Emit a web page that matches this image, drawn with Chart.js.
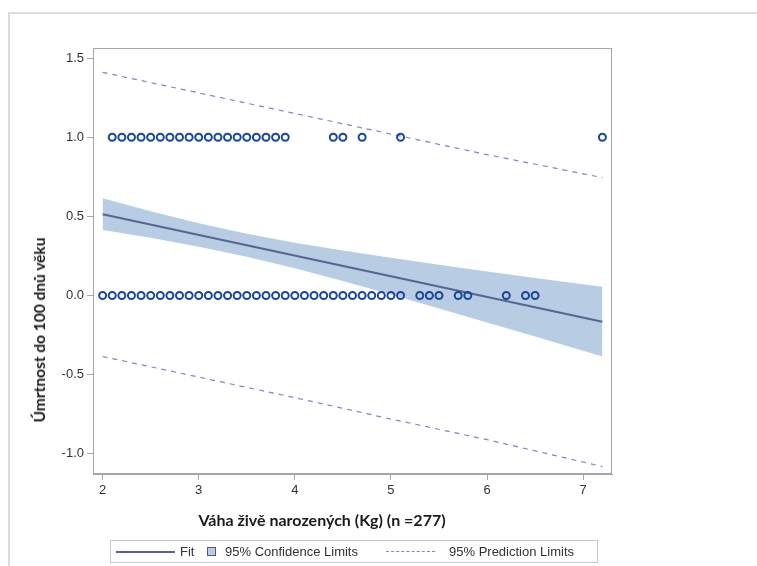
<!DOCTYPE html>
<html>
<head>
<meta charset="utf-8">
<script src="https://cdn.jsdelivr.net/npm/chart.js@4.4.4/dist/chart.umd.min.js"></script>
<style>
  html, body { margin: 0; padding: 0; background: #fff; }
  #wrap { position: relative; width: 757px; height: 566px; overflow: hidden; }
  #frame { position: absolute; left: 8px; top: 12px; width: 800px; height: 600px; border: 2px solid #dcdcdc; }
  canvas { position: absolute; left: 0; top: 0; }
  .axt { position: absolute; font-family: Lato, "Open Sans", sans-serif; font-weight: bold; font-size: 15.5px; color: #1a1a1a; white-space: nowrap; }
  #ytitle { left: 39px; top: 330px; transform: translate(-50%, -50%) rotate(-90deg); }
  #xtitle { left: 322px; top: 519px; transform: translate(-50%, -50%); font-size: 16px; }
  #legend { position: absolute; left: 110px; top: 540px; width: 486px; height: 21px; border: 1px solid #c8c8c8;
            font-family: "Liberation Sans", Arial, sans-serif; font-size: 13px; color: #333; }
  #legend span, #legend i { position: absolute; }
  #legend span { top: 3px; }
</style>
</head>
<body>
<div id="wrap">
  <div id="frame"></div>
  <canvas id="chart" width="757" height="566"></canvas>
  <div class="axt" id="ytitle">Úmrtnost do 100 dnů věku</div>
  <div class="axt" id="xtitle">Váha živě narozených (Kg) (n =277)</div>
  <div id="legend">
    <i style="left:5px;top:10px;width:59px;height:0;border-top:2px solid #56678f"></i>
    <span style="left:69px">Fit</span>
    <i style="left:96px;top:6px;width:7px;height:7px;background:#b8cce4;border:1px solid #4a5a80"></i>
    <span style="left:114px">95% Confidence Limits</span>
    <i style="left:275px;top:10px;width:49px;height:0;border-top:1px dashed #7b87c6"></i>
    <span style="left:338px">95% Prediction Limits</span>
  </div>
</div>
<script>
// observed points (weight in kg, died before day 100 = 1)
const deadX = [2.1, 2.2, 2.3, 2.4, 2.5, 2.6, 2.7, 2.8, 2.9, 3.0, 3.1, 3.2, 3.3, 3.4, 3.5, 3.6, 3.7, 3.8, 3.9,
               4.4, 4.5, 4.7, 5.1, 7.2];
const aliveX = [2.0, 2.1, 2.2, 2.3, 2.4, 2.5, 2.6, 2.7, 2.8, 2.9, 3.0, 3.1, 3.2, 3.3, 3.4, 3.5, 3.6, 3.7, 3.8, 3.9,
                4.0, 4.1, 4.2, 4.3, 4.4, 4.5, 4.6, 4.7, 4.8, 4.9, 5.0, 5.1,
                5.3, 5.4, 5.5, 5.7, 5.8, 6.2, 6.4, 6.5];

// regression fit
const fitX = [2.0, 7.2];
const fitY = [0.514, -0.165];

// 95% confidence band
const bandX = [2.0, 2.5, 3.0, 3.5, 4.0, 4.5, 5.0, 5.5, 6.0, 6.5, 7.2];
const bandUpper = [0.614, 0.533, 0.457, 0.391, 0.334, 0.284, 0.238, 0.195, 0.152, 0.111, 0.055];
const bandLower = [0.414, 0.365, 0.309, 0.245, 0.172, 0.092, 0.006, -0.081, -0.170, -0.259, -0.385];

// 95% prediction limits
const predX = [2.0, 3.0, 4.0, 5.0, 6.0, 7.2];
const predUpper = [1.41, 1.28, 1.15, 1.02, 0.89, 0.745];
const predLower = [-0.385, -0.515, -0.645, -0.78, -0.91, -1.08];

const xTicks = [2, 3, 4, 5, 6, 7];
const yTicks = [-1.0, -0.5, 0.0, 0.5, 1.0, 1.5];

const pts = (xs, ys) => xs.map((x, i) => ({ x: x, y: ys[i] }));
const flat = (xs, v) => xs.map(x => ({ x: x, y: v }));

const frameBox = {
  id: 'frameBox',
  afterDraw(chart) {
    const a = chart.chartArea, ctx = chart.ctx;
    ctx.save();
    ctx.strokeStyle = '#a6a6a6';
    ctx.lineWidth = 1;
    ctx.strokeRect(a.left + 0.5, a.top + 0.5, a.right - a.left - 1, a.bottom - a.top - 1);
    ctx.restore();
  }
};

const lineDs = (label, data, opts) => Object.assign({
  label, data, showLine: true, pointRadius: 0, tension: 0, fill: false
}, opts);

new Chart(document.getElementById('chart'), {
  type: 'scatter',
  data: {
    datasets: [
      { label: '1', data: flat(deadX, 1), pointRadius: 3.5, pointBorderWidth: 2,
        borderColor: '#1c469c', backgroundColor: 'rgba(255,255,255,0)', order: 0 },
      { label: '0', data: flat(aliveX, 0), pointRadius: 3.5, pointBorderWidth: 2,
        borderColor: '#1c469c', backgroundColor: 'rgba(255,255,255,0)', order: 0 },
      lineDs('Fit', pts(fitX, fitY), { borderColor: '#56678f', borderWidth: 2, order: 1 }),
      lineDs('Pred upper', pts(predX, predUpper), { borderColor: '#7b87c6', borderWidth: 1.2, borderDash: [5, 5], order: 2 }),
      lineDs('Pred lower', pts(predX, predLower), { borderColor: '#7b87c6', borderWidth: 1.2, borderDash: [5, 5], order: 2 }),
      lineDs('CL lower', pts(bandX, bandLower), { borderWidth: 0, borderColor: 'rgba(0,0,0,0)', order: 3 }),
      lineDs('CL upper', pts(bandX, bandUpper), { borderWidth: 0, borderColor: 'rgba(0,0,0,0)',
        backgroundColor: '#b8cce4', fill: '-1', order: 3 })
    ]
  },
  options: {
    responsive: false,
    animation: false,
    layout: { padding: { top: 48, right: 145, bottom: 62, left: 0 } },
    plugins: { legend: { display: false }, tooltip: { enabled: false } },
    scales: {
      x: {
        type: 'linear', min: 1.9, max: 7.3,
        afterBuildTicks: s => { s.ticks = xTicks.map(v => ({ value: v })); },
        afterFit: s => { s.height = 30; },
        grid: { drawOnChartArea: false, tickLength: 6, color: '#a6a6a6' },
        border: { color: '#a6a6a6' },
        ticks: { color: '#333', padding: 3, font: { family: 'Liberation Sans, Arial', size: 13 },
                 callback: v => String(v) }
      },
      y: {
        type: 'linear', min: -1.127, max: 1.5635,
        afterBuildTicks: s => { s.ticks = yTicks.map(v => ({ value: v })); },
        afterFit: s => { s.width = 93; },
        grid: { drawOnChartArea: false, tickLength: 6, color: '#a6a6a6' },
        border: { color: '#a6a6a6' },
        ticks: { color: '#333', padding: 3, font: { family: 'Liberation Sans, Arial', size: 13 },
                 callback: v => v.toFixed(1) }
      }
    }
  },
  plugins: [frameBox]
});
</script>
</body>
</html>
